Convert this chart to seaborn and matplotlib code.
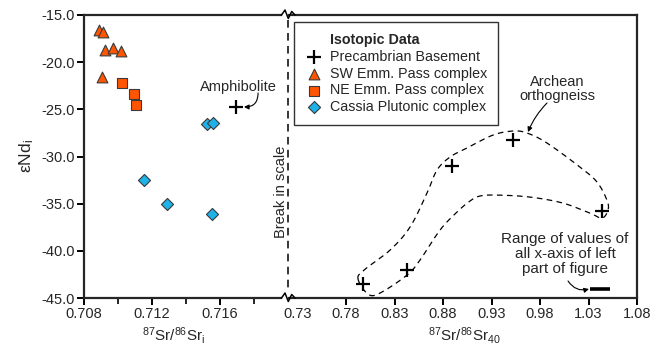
import numpy as np
import matplotlib
matplotlib.use("Agg")
import matplotlib.pyplot as plt
from matplotlib.lines import Line2D
import seaborn as sns

sns.set_style("ticks")
plt.rcParams["font.family"] = ["Liberation Sans", "DejaVu Sans"]
plt.rcParams["mathtext.fontset"] = "custom"
plt.rcParams["mathtext.rm"] = "Liberation Sans"
plt.rcParams["mathtext.it"] = "Liberation Sans:italic"
plt.rcParams["axes.unicode_minus"] = False

# --- data ---
sw_sr = [0.7089, 0.7091, 0.70925, 0.70969, 0.71016, 0.70906]
sw_nd = [-16.6, -16.8, -18.7, -18.5, -18.8, -21.6]

ne_sr = [0.71024, 0.71094, 0.71106]
ne_nd = [-22.2, -23.4, -24.5]

cassia_sr = [0.71522, 0.71557, 0.71153, 0.7129, 0.71551]
cassia_nd = [-26.6, -26.4, -32.5, -35.0, -36.1]

amph_sr = [0.71694]
amph_nd = [-24.7]

base_sr40 = [0.7972, 0.8426, 0.889, 0.9525, 1.0436]
base_nd = [-43.5, -42.0, -31.0, -28.3, -35.8]

# dashed envelope around the basement samples (closed loop)
env_x = [0.7924, 0.7986, 0.8254, 0.846, 0.8635, 0.8738, 0.8872, 0.9047, 0.9315,
         0.9521, 0.9666, 0.9872, 1.0212, 1.0388, 1.049, 1.0501, 1.0439, 1.0315,
         1.0037, 0.9697, 0.9357, 0.9181, 0.9078, 0.8944, 0.8769, 0.8563, 0.8429,
         0.815, 0.8027]
env_y = [-42.99, -42.04, -39.92, -37.48, -33.88, -31.44, -30.06, -29.10, -27.73,
         -27.30, -27.51, -28.57, -31.12, -32.71, -34.62, -35.68, -36.53, -36.0,
         -34.94, -34.30, -34.09, -34.19, -34.72, -35.89, -37.80, -40.98, -42.57,
         -44.48, -44.59]

range_bar_x = [1.0315, 1.0521]
range_bar_y = -44.05

left_ticks = [0.708, 0.712, 0.716]
left_minor = [0.710, 0.714, 0.718]
right_ticks = [0.73, 0.78, 0.83, 0.88, 0.93, 0.98, 1.03, 1.08]
y_ticks = [-45, -40, -35, -30, -25, -20, -15]

orange = "#FF5500"
blue = "#1FB2E8"
edge = "#3a3a3a"

W, H = 661, 348


def px(x, y):
    return x / W, 1 - y / H


def closed_spline(xs, ys, n=16):
    P = np.column_stack([xs, ys])
    pts = np.vstack([P[-1], P, P[0], P[1]])
    t = np.linspace(0, 1, n, endpoint=False)[:, None]
    out = []
    for i in range(1, len(P) + 1):
        p0, p1, p2, p3 = pts[i - 1], pts[i], pts[i + 1], pts[i + 2]
        out.append(0.5 * (2 * p1 + (-p0 + p2) * t
                          + (2 * p0 - 5 * p1 + 4 * p2 - p3) * t ** 2
                          + (-p0 + 3 * p1 - 3 * p2 + p3) * t ** 3))
    out = np.vstack(out + [P[:1]])
    return out[:, 0], out[:, 1]


fig = plt.figure(figsize=(W / 100, H / 100), dpi=100)
ax1 = fig.add_axes([84 / W, 50 / H, 204 / W, 283 / H])
ax2 = fig.add_axes([288 / W, 50 / H, 349 / W, 283 / H], sharey=ax1)

# left part
sns.scatterplot(x=amph_sr, y=amph_nd, ax=ax1, marker="+", color="black", s=110,
                linewidth=1.6, label="Precambrian Basement", zorder=3)
sns.scatterplot(x=sw_sr, y=sw_nd, ax=ax1, marker="^", color=orange, s=60,
                edgecolor=edge, linewidth=0.8, label="SW Emm. Pass complex", zorder=3)
sns.scatterplot(x=ne_sr, y=ne_nd, ax=ax1, marker="s", color=orange, s=55,
                edgecolor=edge, linewidth=0.8, label="NE Emm. Pass complex", zorder=3)
sns.scatterplot(x=cassia_sr, y=cassia_nd, ax=ax1, marker="D", color=blue, s=38,
                edgecolor=edge, linewidth=0.8, label="Cassia Plutonic complex", zorder=3)
handles, labels = ax1.get_legend_handles_labels()
ax1.get_legend().remove()

# right part
sns.scatterplot(x=base_sr40, y=base_nd, ax=ax2, marker="+", color="black", s=110,
                linewidth=1.6, legend=False, zorder=3)
ex, ey = closed_spline(env_x, env_y)
ax2.plot(ex, ey, color="black", lw=0.9, ls=(0, (4.5, 3.5)))
ax2.plot(range_bar_x, [range_bar_y, range_bar_y], color="black", lw=2.6,
         solid_capstyle="butt")

ax1.set_xlim(0.708, 0.720)
ax2.set_xlim(0.7202, 1.08)
ax1.set_ylim(-45, -15)

ax1.set_xticks(left_ticks)
ax1.set_xticks(left_minor, minor=True)
ax1.set_xticklabels([f"{v:.3f}" for v in left_ticks])
ax2.set_xticks(right_ticks)
ax2.set_xticklabels([f"{v:.2f}" for v in right_ticks])
ax2.xaxis.get_major_ticks()[0].tick1line.set_visible(False)
ax1.set_yticks(y_ticks)
ax1.set_yticklabels([f"{v:.1f}" for v in y_ticks])

for ax in (ax1, ax2):
    for sp in ax.spines.values():
        sp.set_linewidth(1.6)
        sp.set_visible(True)
    ax.tick_params(direction="out", length=5, width=1.4, labelsize=10.5,
                   color="black", pad=1.5)
    ax.tick_params(which="minor", direction="out", length=4, width=1.4)
ax1.spines["right"].set_visible(False)
ax2.spines["left"].set_visible(False)
ax2.tick_params(axis="y", left=False, labelleft=False)
ax1.spines["top"].set_bounds(0.708, 0.7196)
ax1.spines["bottom"].set_bounds(0.708, 0.7196)
ax2.spines["top"].set_bounds(0.7212, 1.08)
ax2.spines["bottom"].set_bounds(0.7212, 1.08)

ax1.set_ylabel(r"εNd$_{\mathregular{i}}$", fontsize=12.5)
ax1.yaxis.set_label_coords(-0.235, 0.5)
ax1.set_xlabel(r"$^{\mathregular{87}}$Sr/$^{\mathregular{86}}$Sr$_{\mathregular{i}}$",
               fontsize=11)
ax1.xaxis.set_label_coords(0.44, -0.095)
ax2.set_xlabel(r"$^{\mathregular{87}}$Sr/$^{\mathregular{86}}$Sr$_{\mathregular{40}}$",
               fontsize=11)
ax2.xaxis.set_label_coords(0.505, -0.095)

# break in scale marks
for yb in (15, 298):
    zx = [281.5, 285, 288.3, 291.7, 295]
    zy = [yb, yb - 5, yb + 3.5, yb - 3.5, yb]
    fig.add_artist(Line2D([x / W for x in zx], [1 - y / H for y in zy],
                          color="black", lw=1.1))
fig.add_artist(Line2D([288 / W, 288 / W], [1 - 20 / H, 1 - 292 / H], color="black",
                      lw=1.1, ls=(0, (5, 3.5))))
fig.text(*px(281, 192), "Break in scale", rotation=90, ha="center", va="center",
         fontsize=10.5)

# legend (title as a first, marker-less row so it lines up with the labels)
title_handle = Line2D([], [], linestyle="none", marker=None)
leg = ax2.legend([title_handle] + handles, ["Isotopic Data"] + labels,
                 loc="upper left", bbox_to_anchor=(0.017, 0.975), borderaxespad=0,
                 frameon=True, fancybox=False, edgecolor="black", fontsize=10.3,
                 handletextpad=0.45, labelspacing=0.2, handlelength=1.3,
                 borderpad=0.75)
leg.get_texts()[0].set_fontweight("bold")
leg.get_frame().set_linewidth(1.0)

# annotations
ax1.text(0.71706, -22.64, "Amphibolite", ha="center", va="center", fontsize=10.5)
ax1.annotate("", xy=(0.71741, -24.75), xytext=(0.71824, -23.27),
             arrowprops=dict(arrowstyle="-|>", connectionstyle="arc3,rad=-0.5",
                             color="black", lw=0.8, mutation_scale=7,
                             shrinkA=0, shrinkB=0))
ax2.text(0.9975, -22.85, "Archean\northogneiss", ha="center", va="center",
         fontsize=10.5, linespacing=1.05)
ax2.annotate("", xy=(0.9676, -27.41), xytext=(0.9872, -24.33),
             arrowprops=dict(arrowstyle="-|>", connectionstyle="arc3,rad=0.1",
                             color="black", lw=0.8, mutation_scale=7,
                             shrinkA=0, shrinkB=0))
ax2.text(1.0058, -40.34, "Range of values of\nall x-axis of left\npart of figure",
         ha="center", va="center", fontsize=11, linespacing=1.05)
ax2.annotate("", xy=(1.0305, -44.05), xytext=(1.0089, -43.2),
             arrowprops=dict(arrowstyle="-|>", connectionstyle="arc3,rad=0.35",
                             color="black", lw=0.8, mutation_scale=7,
                             shrinkA=0, shrinkB=0))

fig.savefig("out.png", dpi=100)
